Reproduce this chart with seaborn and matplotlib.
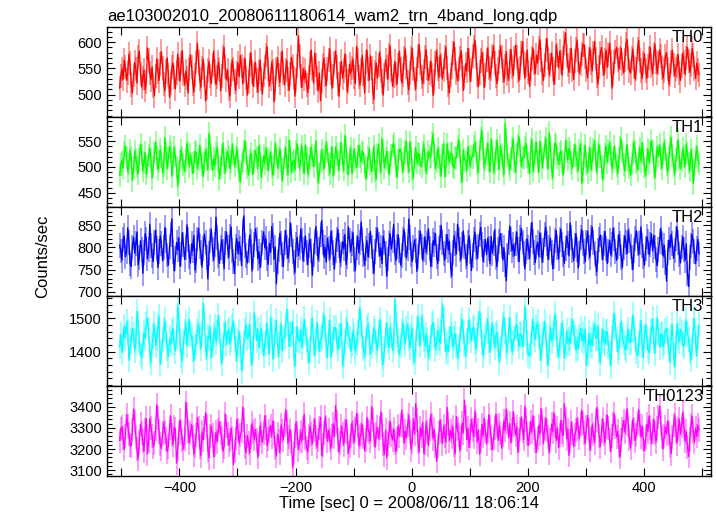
import numpy as np
import pandas as pd
import matplotlib
matplotlib.use("Agg")
import matplotlib.pyplot as plt
import seaborn as sns
from matplotlib.ticker import MultipleLocator, FixedLocator

TITLE = "ae103002010_20080611180614_wam2_trn_4band_long.qdp"
XLABEL = "Time [sec] 0 = 2008/06/11 18:06:14"
YLABEL = "Counts/sec"

# time bins (s): first bin centre and bin width
T_START = -503
T_BIN = 2

BANDS = ["TH0", "TH1", "TH2", "TH3", "TH0123"]
COLORS = ["#ff0000", "#00ff00", "#0000ff", "#00ffff", "#ff00ff"]

TH0 = [
    512, 536, 548, 529, 566, 553, 527, 541, 577, 560, 519, 503, 538, 561, 549, 522, 571, 583, 540, 515,
    531, 547, 509, 524, 589, 565, 541, 528, 553, 516, 498, 535, 568, 544, 527, 559, 582, 551, 520, 507,
    544, 570, 538, 495, 523, 552, 560, 533, 511, 542, 577, 548, 526, 560, 584, 539, 518, 545, 531, 503,
    549, 576, 553, 521, 505, 538, 562, 598, 561, 529, 514, 550, 568, 537, 488, 512, 547, 563, 535, 521,
    556, 583, 544, 519, 533, 562, 549, 507, 536, 571, 590, 552, 528, 547, 511, 497, 538, 566, 548, 525,
    508, 541, 560, 534, 574, 555, 520, 546, 569, 531, 499, 524, 557, 580, 543, 516, 538, 562, 527, 505,
    543, 566, 529, 501, 537, 552, 575, 591, 548, 516, 530, 562, 544, 486, 513, 549, 570, 537, 523, 558,
    583, 541, 519, 547, 565, 529, 508, 540, 571, 555, 532, 497, 528, 554, 612, 573, 536, 514, 549, 530,
    546, 518, 504, 533, 560, 585, 548, 522, 579, 557, 531, 507, 541, 488, 526, 556, 570, 538, 517, 549,
    566, 587, 541, 512, 536, 560, 583, 552, 520, 497, 539, 563, 531, 546, 577, 554, 506, 525, 558, 541,
    550, 568, 534, 521, 592, 566, 533, 518, 547, 575, 539, 503, 562, 585, 548, 527, 574, 551, 506, 491,
    543, 560, 531, 557, 581, 546, 525, 499, 538, 566, 552, 529, 575, 593, 547, 516, 535, 563, 540, 520,
    557, 583, 549, 522, 538, 569, 587, 552, 523, 509, 541, 569, 588, 548, 530, 511, 549, 574, 595, 560,
    533, 521, 544, 571, 586, 551, 527, 541, 564, 537, 498, 525, 560, 585, 549, 533, 575, 556, 530, 547,
    572, 590, 551, 519, 503, 538, 553, 579, 600, 567, 541, 526, 548, 570, 584, 554, 508, 532, 559, 545,
    588, 566, 525, 547, 573, 590, 603, 571, 538, 515, 542, 565, 581, 558, 513, 537, 566, 589, 551, 532,
    549, 574, 593, 560, 535, 521, 548, 562, 593, 571, 545, 524, 555, 582, 540, 527, 563, 586, 552, 536,
    569, 594, 571, 546, 527, 551, 579, 601, 560, 531, 557, 585, 543, 516, 549, 570, 588, 561, 540, 575,
    560, 589, 605, 566, 541, 527, 557, 585, 607, 570, 538, 556, 579, 549, 520, 542, 594, 576, 551, 583,
    562, 537, 570, 599, 618, 573, 556, 543, 565, 588, 547, 529, 564, 586, 604, 566, 540, 558, 577, 595,
    595, 572, 547, 532, 568, 589, 561, 545, 579, 601, 567, 536, 520, 553, 579, 590, 558, 537, 565, 584,
    552, 575, 598, 562, 512, 539, 563, 581, 590, 566, 549, 570, 588, 558, 541, 566, 597, 605, 570, 546,
    541, 569, 587, 552, 530, 548, 587, 603, 565, 546, 531, 560, 578, 546, 531, 554, 569, 590, 555, 539,
    578, 596, 563, 541, 560, 585, 574, 551, 531, 546, 573, 580, 549, 520, 538, 562, 585, 557, 536, 549,
    554, 576, 541, 527, 555, 579, 562, 538, 569, 590, 564, 542, 556, 588, 575, 549, 531, 560, 547, 538,
]
TH1 = [
    483, 505, 512, 498, 527, 541, 519, 490, 506, 532, 519, 474, 498, 531, 515, 502, 487, 515, 545, 523,
    493, 509, 528, 486, 501, 522, 537, 514, 478, 500, 526, 549, 518, 495, 511, 534, 520, 488, 503, 557,
    529, 497, 516, 540, 529, 482, 507, 538, 521, 499, 463, 490, 513, 533, 519, 504, 491, 514, 546, 528,
    500, 525, 508, 487, 510, 531, 528, 496, 515, 542, 519, 505, 481, 508, 534, 516, 494, 566, 541, 517,
    494, 517, 503, 526, 539, 512, 476, 499, 523, 547, 508, 489, 515, 530, 518, 497, 511, 544, 525, 502,
    520, 536, 511, 492, 470, 506, 513, 531, 551, 527, 499, 484, 513, 527, 506, 485, 512, 532, 518, 497,
    541, 522, 480, 498, 522, 507, 537, 517, 493, 514, 529, 501, 484, 506, 545, 526, 498, 517, 535, 512,
    472, 496, 519, 538, 504, 485, 552, 531, 490, 509, 513, 494, 531, 545, 520, 495, 524, 541, 509, 487,
    543, 519, 486, 503, 516, 538, 522, 500, 523, 551, 510, 469, 488, 511, 533, 515, 497, 521, 547, 529,
    505, 487, 518, 539, 482, 504, 539, 524, 512, 494, 526, 547, 510, 494, 561, 538, 507, 485, 520, 536,
    488, 509, 534, 515, 499, 521, 542, 520, 510, 531, 527, 503, 476, 498, 519, 536, 506, 491, 514, 541,
    492, 476, 525, 544, 508, 489, 556, 532, 498, 517, 530, 510, 485, 509, 522, 541, 546, 523, 501, 480,
    513, 535, 534, 508, 491, 518, 528, 551, 510, 490, 549, 529, 495, 478, 516, 538, 508, 526, 524, 506,
    500, 529, 543, 515, 488, 507, 531, 519, 520, 548, 564, 529, 496, 511, 537, 518, 504, 482, 523, 546,
    481, 502, 545, 524, 509, 527, 526, 501, 498, 516, 518, 540, 553, 529, 491, 470, 532, 515, 511, 493,
    540, 518, 502, 520, 519, 541, 548, 529, 507, 489, 533, 555, 571, 536, 497, 514, 524, 547, 512, 490,
    555, 531, 489, 507, 530, 552, 516, 495, 542, 524, 503, 486, 585, 553, 521, 506, 494, 517, 537, 555,
    510, 489, 527, 543, 559, 532, 500, 518, 518, 539, 546, 520, 508, 487, 535, 553, 492, 511, 526, 548,
    511, 490, 550, 529, 499, 518, 539, 556, 518, 496, 567, 540, 496, 479, 524, 547, 543, 519, 505, 526,
    531, 511, 484, 508, 552, 530, 514, 536, 528, 509, 497, 522, 544, 521, 510, 493, 533, 546, 468, 490,
    521, 542, 506, 489, 519, 537, 495, 514, 534, 551, 512, 488, 527, 543, 520, 501, 474, 499, 525, 541,
    509, 532, 548, 523, 496, 511, 540, 518, 503, 487, 516, 538, 555, 529, 505, 492, 521, 544, 513, 498,
    484, 507, 526, 549, 531, 508, 493, 519, 537, 510, 547, 526, 500, 482, 515, 535, 509, 528, 552, 530,
    502, 478, 512, 539, 521, 544, 516, 497, 525, 548, 533, 504, 489, 517, 540, 557, 522, 503, 486, 514,
    531, 553, 519, 496, 512, 536, 520, 501, 544, 527, 508, 492, 533, 515, 468, 494, 521, 540, 512, 506,
]
TH2 = [
    805, 792, 771, 818, 826, 779, 790, 844, 812, 763, 757, 801, 823, 787, 809, 834, 761, 778, 815, 796,
    742, 788, 831, 819, 774, 796, 852, 805, 781, 768, 812, 839, 797, 755, 791, 826, 808, 770, 799, 845,
    816, 783, 760, 802, 829, 864, 790, 747, 776, 811, 795, 821, 758, 784, 833, 806, 773, 799, 851, 817,
    780, 765, 808, 792, 827, 749, 771, 819, 843, 802, 788, 756, 798, 830, 812, 777, 729, 786, 815, 840,
    795, 772, 806, 868, 823, 781, 764, 799, 817, 790, 752, 810, 835, 801, 778, 824, 846, 793, 769, 741,
    803, 820, 786, 812, 797, 759, 838, 871, 804, 781, 765, 792, 828, 813, 747, 779, 806, 842, 819, 775,
    790, 754, 783, 811, 835, 799, 820, 776, 762, 809, 789, 847, 826, 773, 801, 718, 768, 795, 832, 810,
    784, 757, 812, 838, 801, 776, 793, 855, 828, 790, 766, 744, 807, 823, 781, 799, 841, 815, 770, 795,
    826, 788, 761, 804, 819, 792, 737, 783, 814, 847, 808, 772, 796, 830, 860, 811, 779, 801, 767, 821,
    798, 775, 836, 812, 789, 751, 794, 818, 840, 804, 766, 785, 813, 797, 829, 762, 780, 846, 816, 792,
    809, 833, 772, 748, 800, 824, 788, 811, 857, 819, 783, 760, 797, 815, 778, 805, 836, 801, 769, 742,
    790, 817, 843, 806, 781, 799, 764, 825, 812, 787, 735, 774, 808, 831, 796, 816, 852, 788, 771, 803,
    828, 794, 760, 781, 819, 840, 807, 776, 798, 864, 822, 785, 768, 800, 817, 793, 746, 779, 812, 836,
    802, 771, 795, 824, 789, 810, 842, 798, 757, 783, 815, 806, 831, 779, 764, 797, 822, 849, 811, 786,
    771, 803, 829, 794, 814, 759, 736, 788, 826, 808, 785, 852, 819, 795, 772, 806, 837, 801, 780, 760,
    811, 826, 790, 748, 781, 817, 835, 799, 776, 803, 829, 845, 807, 769, 792, 818, 784, 821, 797, 763,
    824, 787, 809, 840, 778, 757, 796, 813, 831, 804, 772, 799, 761, 725, 783, 812, 848, 817, 793, 806,
    781, 809, 834, 796, 768, 822, 843, 811, 786, 752, 790, 819, 800, 775, 827, 856, 813, 788, 766, 801,
    812, 779, 833, 805, 767, 794, 829, 846, 808, 773, 799, 821, 788, 752, 780, 815, 838, 800, 774, 817,
    841, 806, 784, 764, 798, 826, 810, 781, 855, 822, 793, 770, 804, 831, 796, 754, 787, 823, 840, 809,
    790, 768, 811, 837, 799, 778, 823, 846, 812, 787, 764, 745, 793, 818, 828, 800, 772, 809, 836, 797,
    764, 792, 816, 783, 807, 843, 819, 790, 771, 801, 829, 808, 777, 755, 799, 826, 811, 786, 838, 816,
    803, 777, 750, 794, 821, 837, 808, 785, 812, 846, 804, 779, 760, 797, 824, 813, 784, 806, 831, 792,
    827, 801, 773, 759, 796, 814, 843, 810, 781, 805, 767, 724, 788, 817, 799, 830, 809, 775, 794, 821,
    846, 812, 784, 765, 801, 823, 796, 771, 808, 741, 712, 778, 805, 829, 814, 790, 763, 798, 818, 785,
]
TH3 = [
    1415, 1452, 1398, 1433, 1476, 1441, 1490, 1456, 1376, 1411, 1432, 1470, 1451, 1405, 1429, 1521, 1484, 1427, 1392, 1384,
    1418, 1456, 1439, 1481, 1502, 1463, 1393, 1367, 1421, 1447, 1483, 1418, 1440, 1478, 1506, 1362, 1398, 1436, 1467, 1495,
    1452, 1411, 1385, 1438, 1424, 1459, 1470, 1427, 1402, 1444, 1539, 1497, 1433, 1389, 1372, 1426, 1461, 1487, 1419, 1453,
    1497, 1455, 1446, 1408, 1372, 1415, 1428, 1462, 1486, 1440, 1409, 1455, 1547, 1503, 1414, 1380, 1446, 1440, 1474, 1381,
    1418, 1451, 1474, 1431, 1458, 1509, 1471, 1397, 1365, 1414, 1451, 1488, 1422, 1459, 1466, 1424, 1438, 1475, 1493, 1446,
    1407, 1374, 1429, 1459, 1422, 1343, 1384, 1426, 1463, 1481, 1439, 1445, 1482, 1396, 1360, 1411, 1517, 1476, 1434, 1467,
    1412, 1449, 1471, 1430, 1388, 1424, 1449, 1487, 1429, 1395, 1504, 1462, 1378, 1415, 1457, 1494, 1420, 1386, 1442, 1485,
    1403, 1440, 1442, 1479, 1528, 1484, 1416, 1453, 1452, 1490, 1391, 1357, 1436, 1476, 1434, 1430, 1467, 1413, 1449, 1499,
    1457, 1437, 1400, 1368, 1405, 1463, 1501, 1425, 1389, 1437, 1488, 1446, 1401, 1438, 1444, 1481, 1512, 1470, 1419, 1383,
    1458, 1495, 1385, 1422, 1435, 1472, 1472, 1430, 1408, 1444, 1448, 1485, 1355, 1392, 1427, 1465, 1491, 1449, 1440, 1402,
    1421, 1463, 1447, 1399, 1425, 1458, 1491, 1532, 1480, 1446, 1410, 1383, 1431, 1470, 1479, 1452, 1392, 1416, 1436, 1468,
    1461, 1427, 1404, 1453, 1495, 1459, 1386, 1362, 1408, 1450, 1487, 1433, 1412, 1473, 1448, 1404, 1431, 1557, 1506, 1452,
    1433, 1390, 1418, 1459, 1486, 1443, 1423, 1469, 1483, 1441, 1412, 1448, 1471, 1395, 1367, 1429, 1469, 1506, 1455, 1418,
    1506, 1474, 1437, 1418, 1452, 1433, 1381, 1410, 1441, 1478, 1487, 1452, 1406, 1428, 1464, 1439, 1426, 1462, 1543, 1495,
    1437, 1400, 1421, 1399, 1436, 1477, 1452, 1415, 1439, 1455, 1418, 1382, 1411, 1438, 1475, 1496, 1460, 1421, 1385, 1433,
    1458, 1495, 1462, 1433, 1470, 1474, 1431, 1408, 1447, 1485, 1520, 1477, 1427, 1390, 1415, 1448, 1462, 1499, 1435, 1398,
    1440, 1486, 1443, 1413, 1450, 1457, 1420, 1369, 1406, 1444, 1481, 1505, 1462, 1420, 1397, 1466, 1503, 1440, 1401, 1428,
    1439, 1476, 1482, 1439, 1416, 1453, 1451, 1414, 1454, 1536, 1493, 1429, 1392, 1387, 1424, 1460, 1497, 1451, 1437, 1474,
    1489, 1446, 1411, 1374, 1430, 1454, 1491, 1447, 1396, 1359, 1412, 1475, 1432, 1451, 1469, 1515, 1472, 1419, 1382, 1428,
    1447, 1484, 1456, 1380, 1417, 1463, 1426, 1440, 1425, 1462, 1498, 1455, 1442, 1405, 1431, 1409, 1446, 1470, 1433, 1452,
    1431, 1468, 1359, 1396, 1456, 1419, 1437, 1418, 1455, 1484, 1441, 1440, 1477, 1403, 1366, 1432, 1467, 1430, 1423, 1460,
    1459, 1416, 1394, 1357, 1440, 1478, 1515, 1472, 1436, 1399, 1412, 1449, 1493, 1450, 1427, 1412, 1405, 1442, 1466, 1429,
    1428, 1465, 1511, 1468, 1439, 1402, 1388, 1425, 1457, 1494, 1420, 1383, 1446, 1480, 1443, 1406, 1398, 1435, 1462, 1499,
    1432, 1395, 1458, 1502, 1459, 1414, 1451, 1453, 1416, 1427, 1464, 1470, 1433, 1406, 1369, 1445, 1482, 1391, 1354, 1420,
    1484, 1447, 1430, 1467, 1458, 1421, 1417, 1454, 1496, 1453, 1438, 1401, 1376, 1413, 1463, 1500, 1425, 1388, 1443, 1480,
]
TH0123 = [
    3240, 3296, 3305, 3251, 3198, 3262, 3362, 3310, 3271, 3219, 3214, 3288, 3389, 3327, 3256, 3198, 3152, 3231, 3318, 3277,
    3237, 3190, 3290, 3345, 3176, 3239, 3345, 3301, 3262, 3210, 3229, 3297, 3411, 3345, 3283, 3222, 3201, 3274, 3326, 3280,
    3249, 3187, 3212, 3302, 3355, 3268, 3221, 3303, 3294, 3133, 3201, 3276, 3338, 3282, 3245, 3199, 3248, 3420, 3367, 3287,
    3230, 3275, 3316, 3258, 3174, 3216, 3266, 3349, 3301, 3211, 3169, 3281, 3243, 3300, 3372, 3311, 3196, 3158, 3260, 3308,
    3266, 3163, 3220, 3279, 3235, 3291, 3330, 3277, 3254, 3190, 3212, 3367, 3311, 3273, 3218, 3244, 3297, 3251, 3126, 3192,
    3252, 3341, 3288, 3227, 3265, 3286, 3399, 3338, 3208, 3182, 3264, 3230, 3182, 3258, 3321, 3280, 3247, 3291, 3243, 3160,
    3223, 3311, 3269, 3233, 3275, 3358, 3302, 3216, 3247, 3285, 3311, 3259, 3334, 3278, 3204, 3166, 3270, 3240, 3183, 3313,
    3284, 3241, 3312, 3386, 3329, 3226, 3257, 3292, 3235, 3110, 3181, 3263, 3328, 3275, 3197, 3239, 3280, 3238, 3301, 3365,
    3250, 3205, 3185, 3262, 3306, 3272, 3224, 3289, 3343, 3257, 3211, 3245, 3298, 3350, 3168, 3218, 3277, 3352, 3305, 3236,
    3289, 3244, 3203, 3264, 3320, 3258, 3407, 3330, 3244, 3187, 3229, 3310, 3269, 3220, 3287, 3337, 3283, 3179, 3214, 3261,
    3324, 3279, 3231, 3296, 3370, 3309, 3214, 3256, 3272, 3318, 3255, 3193, 3241, 3349, 3290, 3281, 3237, 3402, 3339, 3266,
    3209, 3271, 3303, 3248, 3298, 3376, 3315, 3222, 3174, 3290, 3158, 3225, 3277, 3331, 3268, 3243, 3295, 3231, 3186, 3247,
    3308, 3262, 3316, 3385, 3311, 3228, 3285, 3252, 3314, 3359, 3281, 3197, 3233, 3343, 3271, 3415, 3338, 3234, 3187, 3301,
    3260, 3327, 3178, 3231, 3326, 3280, 3217, 3296, 3364, 3312, 3249, 3293, 3213, 3141, 3216, 3275, 3338, 3286, 3226, 3309,
    3264, 3232, 3398, 3325, 3240, 3287, 3256, 3305, 3219, 3177, 3354, 3294, 3268, 3191, 3250, 3322, 3277, 3431, 3352, 3245,
    3299, 3207, 3262, 3340, 3289, 3258, 3381, 3312, 3232, 3290, 3175, 3238, 3316, 3263, 3347, 3285, 3223, 3284, 3363, 3304,
    3251, 3196, 3253, 3298, 3366, 3310, 3241, 3312, 3275, 3203, 3266, 3335, 3288, 3389, 3327, 3254, 3321, 3229, 3291, 3377,
    3314, 3267, 3306, 3184, 3245, 3294, 3351, 3286, 3246, 3403, 3336, 3273, 3217, 3276, 3329, 3282, 3358, 3301, 3237, 3184,
    3253, 3310, 3270, 3392, 3331, 3226, 3297, 3344, 3290, 3255, 3181, 3242, 3319, 3283, 3372, 3308, 3240, 3301, 3206, 3267,
    3336, 3281, 3265, 3414, 3342, 3248, 3292, 3170, 3239, 3327, 3276, 3213, 3265, 3289, 3344, 3296, 3251, 3318, 3385, 3322,
    3277, 3225, 3303, 3358, 3291, 3196, 3248, 3314, 3270, 3229, 3339, 3398, 3331, 3262, 3211, 3287, 3344, 3273, 3230, 3306,
    3362, 3300, 3241, 3189, 3262, 3319, 3368, 3305, 3256, 3284, 3213, 3163, 3245, 3297, 3335, 3281, 3322, 3391, 3316, 3248,
    3204, 3277, 3342, 3296, 3239, 3268, 3325, 3387, 3312, 3257, 3309, 3246, 3190, 3257, 3318, 3283, 3356, 3302, 3224, 3283,
    3340, 3274, 3233, 3299, 3350, 3402, 3321, 3258, 3200, 3264, 3305, 3271, 3334, 3278, 3216, 3178, 3255, 3313, 3361, 3287,
    3226, 3295, 3341, 3269, 3310, 3376, 3296, 3238, 3283, 3210, 3165, 3247, 3316, 3355, 3280, 3233, 3300, 3261, 3312, 3289,
]
SERIES = [TH0, TH1, TH2, TH3, TH0123]

# typical 1-sigma error per band (counts/sec)
ERRORS = [23, 22, 28, 38, 57]

YLIMS = [(458, 629), (423, 598), (690, 892), (1297, 1566), (3072, 3498)]
YTICKS = [[500, 550, 600], [450, 500, 550], [700, 750, 800, 850],
          [1400, 1500], [3100, 3200, 3300, 3400]]
YMINOR = [10, 10, 10, 20, 20]

sns.set_theme(style="ticks")
plt.rcParams["font.family"] = ["Liberation Sans", "DejaVu Sans"]
plt.rcParams["font.size"] = 10.5
for key in ["text.color", "axes.labelcolor", "xtick.color", "ytick.color", "axes.edgecolor"]:
    plt.rcParams[key] = "black"

fig, axes = plt.subplots(len(BANDS), 1, figsize=(7.17, 5.16), dpi=100, sharex=True)
fig.subplots_adjust(left=0.149, right=0.992, top=0.948, bottom=0.0775, hspace=0)

for ax, band, vals, color, err, ylim, yt, ymin in zip(
        axes, BANDS, SERIES, COLORS, ERRORS, YLIMS, YTICKS, YMINOR):
    times = T_START + T_BIN * np.arange(len(vals))
    df = pd.DataFrame({"time": times, "rate": vals})
    # light error bars
    ax.vlines(df["time"], df["rate"] - err, df["rate"] + err,
              color=color, alpha=0.5, linewidth=1.1)
    sns.lineplot(data=df, x="time", y="rate", ax=ax, color=color,
                 linewidth=0.95, estimator=None, sort=False)
    ax.set_ylim(*ylim)
    ax.set_xlim(-525, 516)
    ax.yaxis.set_major_locator(FixedLocator(yt))
    ax.yaxis.set_minor_locator(MultipleLocator(ymin))
    ax.xaxis.set_major_locator(MultipleLocator(200))
    ax.xaxis.set_minor_locator(MultipleLocator(100))
    ax.tick_params(which="both", direction="in", top=True, right=True,
                   labelsize=10.5, color="black", width=0.8)
    ax.tick_params(which="major", length=6)
    ax.tick_params(which="minor", length=3.5)
    ax.tick_params(axis="x", which="minor", length=6)
    for sp in ax.spines.values():
        sp.set_linewidth(1.0)
        sp.set_color("black")
    ax.set_ylabel("")
    ax.set_xlabel("")
    ax.text(0.987, 0.965, band, transform=ax.transAxes, ha="right", va="top",
            fontsize=12)

axes[-1].set_xlabel(XLABEL, fontsize=12, labelpad=1)
axes[0].set_title(TITLE, loc="left", fontsize=12, pad=4)
fig.text(0.06, 0.504, YLABEL, rotation=90, ha="center", va="center", fontsize=12)

fig.savefig("out.png", dpi=100)
